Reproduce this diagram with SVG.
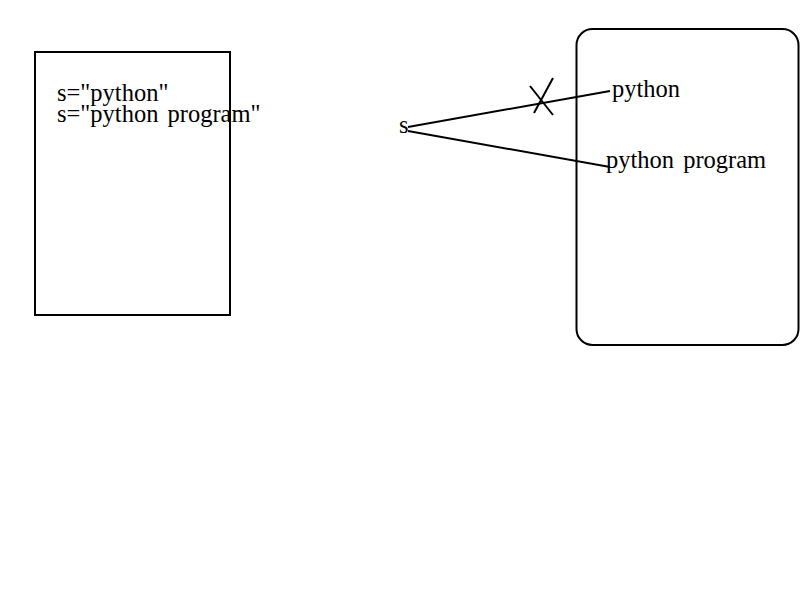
<svg xmlns="http://www.w3.org/2000/svg" width="800" height="600" viewBox="0 0 800 600">
<style>
.t{font-family:"Liberation Serif","Times New Roman",serif;font-size:24.5px;fill:#000;word-spacing:3px}
.b{fill:none;stroke:#000;stroke-width:2}
.c{fill:none;stroke:#000;stroke-width:2}
</style>
<rect width="800" height="600" fill="#fff"/>
<g id="code">
<rect class="b" x="35" y="52" width="195" height="263"/>
<text class="t" x="57" y="100.5">s="python"</text>
<text class="t" x="57" y="122">s="python program"</text>
</g>
<g id="var">
<text class="t" x="399" y="133">s</text>
</g>
<g id="memory">
<rect class="b" x="576.5" y="29" width="222" height="316" rx="16"/>
<text class="t" x="612" y="97">python</text>
<text class="t" x="606" y="168">python program</text>
</g>
<g id="connectors">
<line class="c" x1="408" y1="127" x2="610" y2="91"/>
<line class="c" x1="408" y1="131" x2="610" y2="167"/>
<line class="c" x1="530" y1="86" x2="553" y2="115"/>
<line class="c" x1="553" y1="78" x2="534" y2="113"/>
</g>
</svg>
